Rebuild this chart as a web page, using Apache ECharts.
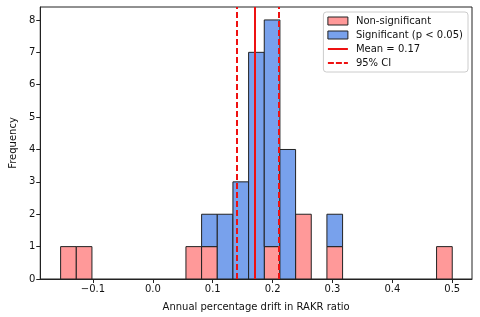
<!DOCTYPE html>
<html>
<head>
<meta charset="utf-8" />
<title>RAKR drift histogram</title>
<script src="https://cdn.jsdelivr.net/npm/echarts@6/dist/echarts.min.js"></script>
<style>
    html, body { margin: 0; padding: 0; background: #fff; }
    #main { width: 480px; height: 317px; }
</style>
</head>
<body>
<div id="main"></div>
<script>
    // histogram bins (25 bins)
    var binStart = -0.154;
    var binWidth = 0.02616;
    var nonSigCounts = [1, 1, 0, 0, 0, 0, 0, 0, 1, 1, 0, 0, 0, 1, 0, 2, 0, 1, 0, 0, 0, 0, 0, 0, 1];
    var sigCounts    = [0, 0, 0, 0, 0, 0, 0, 0, 0, 1, 2, 3, 7, 7, 4, 0, 0, 1, 0, 0, 0, 0, 0, 0, 0];

    var meanValue = 0.1735;
    var ciValues = [0.138, 0.2095];

    var xTicks = [-0.1, 0.0, 0.1, 0.2, 0.3, 0.4, 0.5];
    var yTicks = [0, 1, 2, 3, 4, 5, 6, 7, 8];

    var font = 'DejaVu Sans';
    var red = '#ff9999', blue = '#78a1ec', lineRed = '#ee1111';

    // build bar rectangles [left, right, bottom, top]
    var redRects = [];
    var blueRects = [];
    for (var i = 0; i < nonSigCounts.length; i++) {
        var l = binStart + i * binWidth;
        var r = l + binWidth;
        if (nonSigCounts[i] > 0) redRects.push([l, r, 0, nonSigCounts[i]]);
        if (sigCounts[i] > 0) blueRects.push([l, r, nonSigCounts[i], nonSigCounts[i] + sigCounts[i]]);
    }

    function rectItem(fill) {
        return function (params, api) {
            var p0 = api.coord([api.value(0), api.value(2)]);
            var p1 = api.coord([api.value(1), api.value(3)]);
            return {
                type: 'rect',
                shape: { x: p0[0], y: p1[1], width: p1[0] - p0[0], height: p0[1] - p1[1] },
                style: { fill: fill, stroke: '#222', lineWidth: 1 }
            };
        };
    }

    var myChart = echarts.init(document.getElementById('main'), null, { renderer: 'canvas' });
    myChart.setOption({
        animation: false,
        backgroundColor: '#fff',
        textStyle: { fontFamily: font },
        grid: {
            left: 34, right: 8, top: 7, bottom: 37,
            show: true, borderColor: '#222', borderWidth: 1
        },
        legend: {
            orient: 'vertical',
            right: 12,
            top: 12,
            backgroundColor: '#fff',
            borderColor: '#ccc',
            borderWidth: 1,
            borderRadius: 3,
            padding: [4, 5, 4, 4],
            itemGap: 4,
            itemWidth: 20,
            itemHeight: 8,
            textStyle: { fontFamily: font, fontSize: 10, color: '#111', padding: [0, 0, 0, 3] },
            data: [
                { name: 'Non-significant', icon: 'rect', itemStyle: { color: red, borderColor: '#222', borderWidth: 1 } },
                { name: 'Significant (p < 0.05)', icon: 'rect', itemStyle: { color: blue, borderColor: '#222', borderWidth: 1 } },
                { name: 'Mean = 0.17', icon: 'path://M0,0H20V2H0Z', itemStyle: { color: lineRed, borderWidth: 0 } },
                { name: '95% CI', icon: 'path://M0,0H6V2H0Z M8,0H14V2H8Z M16,0H20V2H16Z', itemStyle: { color: lineRed, borderWidth: 0 } }
            ]
        },
        xAxis: {
            type: 'value',
            min: -0.188,
            max: 0.533,
            splitLine: { show: false },
            axisLine: { onZero: false, lineStyle: { color: '#222' } },
            axisTick: { show: true, length: 4, customValues: xTicks, lineStyle: { color: '#222' } },
            axisLabel: {
                customValues: xTicks,
                fontSize: 10, color: '#111', margin: 5,
                formatter: function (v) { return (v < 0 ? '\u2212' : '') + Math.abs(v).toFixed(1); }
            },
            name: 'Annual percentage drift in RAKR ratio',
            nameLocation: 'middle',
            nameGap: 23,
            nameTextStyle: { fontSize: 10, color: '#111' }
        },
        yAxis: {
            type: 'value',
            min: 0,
            max: 8.4,
            splitLine: { show: false },
            axisLine: { show: true, onZero: false, lineStyle: { color: '#222' } },
            axisTick: { show: true, length: 4, customValues: yTicks, lineStyle: { color: '#222' } },
            axisLabel: { customValues: yTicks, fontSize: 10, color: '#111', margin: 5 },
            name: 'Frequency',
            nameLocation: 'middle',
            nameGap: 20,
            nameTextStyle: { fontSize: 10, color: '#111' }
        },
        series: [
            {
                name: 'Non-significant',
                type: 'custom',
                renderItem: rectItem(red),
                itemStyle: { color: red },
                encode: { x: [0, 1], y: [2, 3] },
                data: redRects,
                z: 2
            },
            {
                name: 'Significant (p < 0.05)',
                type: 'custom',
                renderItem: rectItem(blue),
                itemStyle: { color: blue },
                encode: { x: [0, 1], y: [2, 3] },
                data: blueRects,
                z: 2
            },
            {
                name: 'Mean = 0.17',
                type: 'line',
                data: [],
                symbol: 'none',
                itemStyle: { color: lineRed },
                lineStyle: { color: lineRed, width: 2 },
                markLine: {
                    silent: true,
                    symbol: ['none', 'none'],
                    label: { show: false },
                    lineStyle: { color: lineRed, width: 2, type: 'solid' },
                    data: [{ xAxis: meanValue }]
                },
                z: 5
            },
            {
                name: '95% CI',
                type: 'line',
                data: [],
                symbol: 'none',
                itemStyle: { color: lineRed },
                lineStyle: { color: lineRed, width: 2, type: [6, 3] },
                markLine: {
                    silent: true,
                    symbol: ['none', 'none'],
                    label: { show: false },
                    lineStyle: { color: lineRed, width: 2, type: [6, 3] },
                    data: [{ xAxis: ciValues[0] }, { xAxis: ciValues[1] }]
                },
                z: 5
            }
        ]
    });
</script>
</body>
</html>
